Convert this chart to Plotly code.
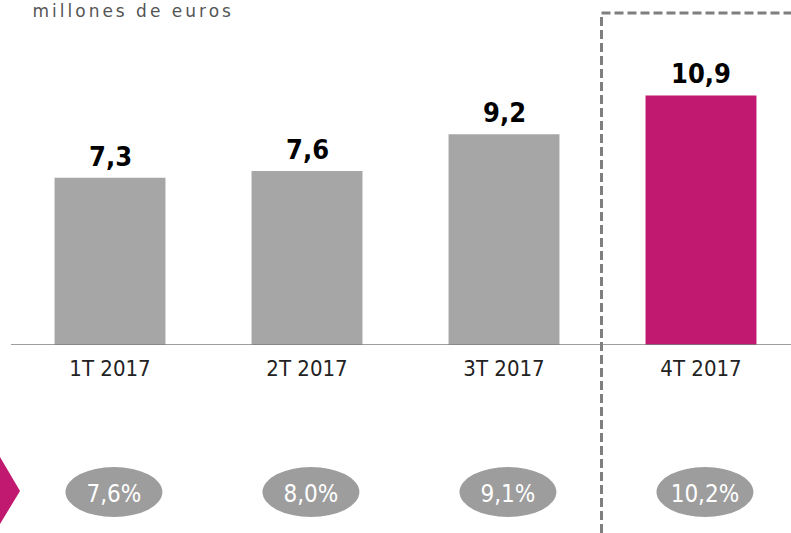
import plotly.graph_objects as go

categories = ["1T 2017", "2T 2017", "3T 2017", "4T 2017"]
values = [7.3, 7.6, 9.2, 10.9]
value_labels = ["7,3", "7,6", "9,2", "10,9"]
pct_labels = ["7,6%", "8,0%", "9,1%", "10,2%"]
bar_colors = ["#a6a6a6", "#a6a6a6", "#a6a6a6", "#c0196f"]

W, H = 791, 533
x_idx = list(range(len(categories)))
COND = "DejaVu Sans Condensed, Liberation Sans Narrow, sans-serif"

fig = go.Figure()
fig.add_trace(go.Bar(
    x=x_idx, y=values, width=0.563,
    marker=dict(color=bar_colors, line=dict(width=0)),
    hoverinfo="skip",
))

shapes = []
annotations = []
# value labels above bars
for i, (v, lab) in enumerate(zip(values, value_labels)):
    annotations.append(dict(x=i, y=v, xref="x", yref="y", text=lab, showarrow=False,
                            yanchor="bottom", yshift=4,
                            font=dict(family=COND, size=27, color="#000000", weight="bold")))
# ellipses with percentages
for i, lab in enumerate(pct_labels):
    shapes.append(dict(type="circle", xref="x", yref="paper",
                       x0=i + 0.02 - 0.246, x1=i + 0.02 + 0.246,
                       y0=1 - 517 / H, y1=1 - 467 / H,
                       fillcolor="#9d9d9d", line=dict(width=0), layer="below",
                       label=dict(text=lab, textposition="middle center",
                                  font=dict(family=COND, size=24, color="#ffffff"))))
# baseline
shapes.append(dict(type="line", xref="paper", yref="y", x0=11 / W, x1=1, y0=0, y1=0,
                   line=dict(color="#7f7f7f", width=1.5)))
# dashed highlight box
shapes.append(dict(type="path", xref="paper", yref="paper",
                   path=f"M {601.5/W} 0 L {601.5/W} {1-13/H} L 1 {1-13/H}",
                   line=dict(color="#7f7f7f", width=3, dash="9px,4px")))
# magenta arrow
shapes.append(dict(type="path", xref="paper", yref="paper",
                   path=f"M 0 {1-457/H} L {20/W} {1-491/H} L 0 {1-524/H} Z",
                   fillcolor="#c0196f", line=dict(width=0)))

annotations.append(dict(x=133 / W, y=1 - 11 / H, xref="paper", yref="paper",
                        xanchor="center", yanchor="middle", text="millones de euros",
                        showarrow=False,
                        font=dict(family="DejaVu Sans, sans-serif", size=17, color="#555555")))

fig.update_layout(
    width=W, height=H, margin=dict(l=0, r=0, t=0, b=0),
    plot_bgcolor="#ffffff", paper_bgcolor="#ffffff",
    showlegend=False, shapes=shapes, annotations=annotations,
    xaxis=dict(range=[-110 / 197, (W - 110) / 197], tickmode="array",
               tickvals=x_idx, ticktext=categories, showgrid=False, zeroline=False,
               showline=False, ticks="", ticklabelstandoff=8,
               tickfont=dict(family=COND, size=22, color="#222222")),
    yaxis=dict(domain=[1 - 345 / H, 1], range=[0, 345 / 22.9], visible=False,
               showgrid=False, zeroline=False),
)

post = """
document.body.style.margin='0';
document.body.style.overflow='hidden';
var ts = document.querySelectorAll('.annotation-text');
ts.forEach(function(t){ if (t.textContent === 'millones de euros') { t.style.letterSpacing = '3px'; } });
"""

fig.write_html("out.html", post_script=post, config={"displayModeBar": False})
